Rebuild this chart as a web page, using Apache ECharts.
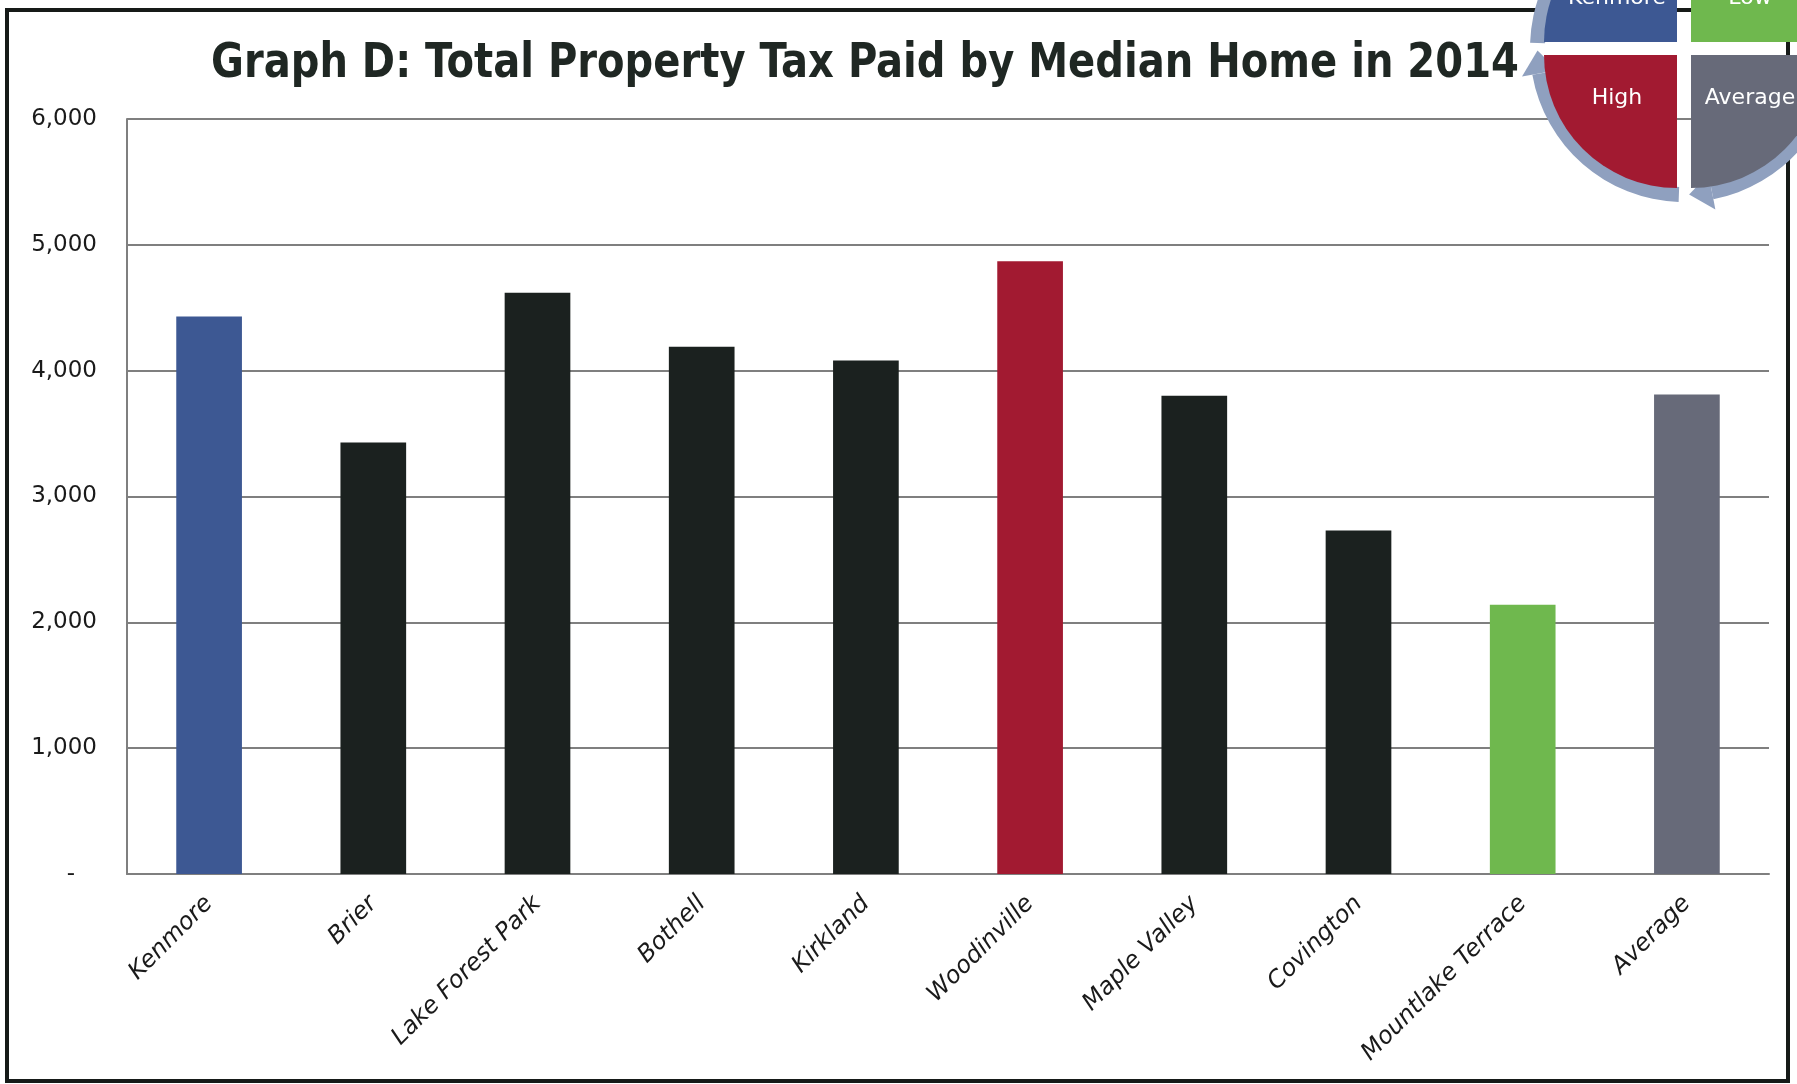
<!DOCTYPE html>
<html>
<head>
<meta charset="utf-8">
<script src="https://cdn.jsdelivr.net/npm/echarts@6/dist/echarts.min.js"></script>
<style>
html,body{margin:0;padding:0;background:#fff;}
#chart{width:1797px;height:1084px;}
</style>
</head>
<body>
<div id="chart"></div>
<script>
// ---- data ----
const categories = ['Kenmore','Brier','Lake Forest Park','Bothell','Kirkland','Woodinville','Maple Valley','Covington','Mountlake Terrace','Average'];
const taxPaid = [4430, 3430, 4620, 4190, 4080, 4870, 3800, 2730, 2140, 3810];
const yTicks = [0, 1000, 2000, 3000, 4000, 5000, 6000];
const legendLabels = ['Kenmore', 'Low', 'High', 'Average'];
const titleText = 'Graph D: Total Property Tax Paid by Median Home in 2014';

// ---- colours by role ----
const COL = { kenmore:'#3d5893', low:'#6fb84e', high:'#a21a31', average:'#676a79', other:'#1b211f' };
const cityVals = taxPaid.slice(0, taxPaid.length - 1);
const maxV = Math.max(...cityVals), minV = Math.min(...cityVals);
function roleColor(name, v) {
  if (name === 'Kenmore') return COL.kenmore;
  if (name === 'Average') return COL.average;
  if (v === maxV) return COL.high;
  if (v === minV) return COL.low;
  return COL.other;
}

const chart = echarts.init(document.getElementById('chart'));

// ---- cycle legend (decoration) ----
const ring = '#8fa0bf';
const g = [];
const R = 133;
const quads = [
  { cx:1677, cy:55, s:Math.PI/2, e:Math.PI, color:COL.high, label:legendLabels[2], tx:1617, ty:98 },
  { cx:1677, cy:42, s:Math.PI, e:Math.PI*1.5, color:COL.kenmore, label:legendLabels[0], tx:1617, ty:-2 },
  { cx:1691, cy:42, s:Math.PI*1.5, e:Math.PI*2, color:COL.low, label:legendLabels[1], tx:1750, ty:-2 },
  { cx:1691, cy:55, s:0, e:Math.PI/2, color:COL.average, label:legendLabels[3], tx:1750, ty:98 }
];
quads.forEach(q => {
  g.push({ type:'sector', z:100, shape:{ cx:q.cx, cy:q.cy, r:R, r0:0, startAngle:q.s, endAngle:q.e }, style:{ fill:q.color } });
  g.push({ type:'text', z:101, style:{ text:q.label, x:q.tx, y:q.ty, fill:'#ffffff', font:'22px "DejaVu Sans"', textAlign:'center', textVerticalAlign:'middle' } });
});
const RC = { x:1684, y:48 }, r0 = 139, r1 = 154;
function deg(d){ return d*Math.PI/180; }
function arrow(a0, a1) {
  g.push({ type:'sector', z:99, shape:{ cx:RC.x, cy:RC.y, r:r1, r0:r0, startAngle:deg(a0), endAngle:deg(a1) }, style:{ fill:ring } });
  const rm = (r0 + r1) / 2;
  const pt = (a, r) => [RC.x + r*Math.cos(deg(a)), RC.y + r*Math.sin(deg(a))];
  g.push({ type:'polygon', z:99, shape:{ points:[ pt(a1, rm - 18), pt(a1, rm + 18), pt(a1 + 9, rm) ] }, style:{ fill:ring } });
}
arrow(92, 170);
arrow(182, 262);
arrow(272, 352);
arrow(2, 79);

// frame
g.push({ type:'rect', z:0, shape:{ x:7, y:10, width:1781, height:1071 }, style:{ fill:'none', stroke:'#161a18', lineWidth:4 } });

// title (condensed heavy look)
g.push({ type:'text', z:50, x:211, y:41, scaleX:0.928, scaleY:1,
  style:{ text:titleText, x:0, y:0, fill:'#1f2723', font:'bold 48px "DejaVu Sans Condensed","DejaVu Sans",sans-serif', textAlign:'left', textVerticalAlign:'top' } });

chart.setOption({
  animation:false,
  backgroundColor:'#ffffff',
  grid:{ left:127, right:28, top:119, bottom:210 },
  xAxis:{
    type:'category',
    data:categories,
    axisLine:{ show:true, lineStyle:{ color:'#7f7f7f', width:2 } },
    axisTick:{ show:false },
    axisLabel:{ interval:0, rotate:45, margin:26, fontSize:24, fontStyle:'italic', fontFamily:'"DejaVu Sans"', color:'#1a1a1a' }
  },
  yAxis:{
    type:'value',
    min:yTicks[0], max:yTicks[yTicks.length-1], interval:yTicks[1]-yTicks[0],
    axisLine:{ show:true, lineStyle:{ color:'#7f7f7f', width:2 } },
    axisTick:{ show:false },
    splitLine:{ show:true, lineStyle:{ color:'#7f7f7f', width:2 } },
    axisLabel:{ margin:30, fontSize:23, fontFamily:'"DejaVu Sans"', color:'#1a1a1a',
      formatter: v => v === 0 ? '-   ' : v.toLocaleString('en-US') }
  },
  series:[{
    type:'bar',
    barWidth:'40%',
    data: taxPaid.map((v, i) => ({ value:v, itemStyle:{ color: roleColor(categories[i], v) } }))
  }],
  graphic: g
});
</script>
</body>
</html>
